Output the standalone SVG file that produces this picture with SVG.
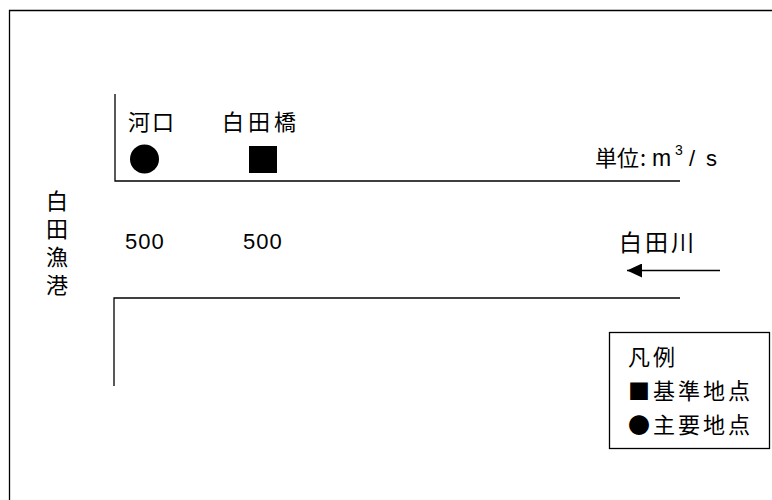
<svg xmlns="http://www.w3.org/2000/svg" width="772" height="500" viewBox="0 0 772 500">
<style>
.t{font-family:"Noto Sans CJK JP","Liberation Sans",sans-serif;fill:#000}
.n{font-family:"Liberation Sans","Noto Sans CJK JP",sans-serif;fill:#000;font-size:22px}
.ln{stroke:#000;stroke-width:1.3;fill:none}
</style>
<defs>
<marker id="ah" markerWidth="15" markerHeight="14" refX="15" refY="7" orient="auto" markerUnits="userSpaceOnUse">
<path d="M0,0 L15,7 L0,14 Z" fill="#000"/>
</marker>
</defs>
<rect width="772" height="500" fill="#fff"/>
<path class="ln" d="M9.5,510 V10.5 H780" stroke-width="1.5"/>
<g id="river">
<path class="ln" d="M115,94 V181 H680"/>
<path class="ln" d="M114,386 V298 H680"/>
</g>
<g id="connectors">
<line class="ln" x1="720" y1="270.5" x2="627" y2="270.5" marker-end="url(#ah)"/>
</g>
<g id="kakou">
<text class="t" x="128" y="130" font-size="22" letter-spacing="2">河口</text>
<circle cx="144.5" cy="159" r="14.5" fill="#000"/>
<text class="n" x="125" y="249" letter-spacing="1">500</text>
</g>
<g id="shiratabashi">
<text class="t" x="222" y="130" font-size="22" letter-spacing="4">白田橋</text>
<rect x="249" y="146" width="28" height="27" fill="#000"/>
<text class="n" x="243" y="249" letter-spacing="1">500</text>
</g>
<g id="unit">
<text class="t" y="166" font-size="22"><tspan x="595">単</tspan><tspan x="617">位</tspan><tspan x="640">:</tspan><tspan x="652" font-family="Liberation Sans" font-size="23">m</tspan><tspan x="675" y="155" font-size="14" font-family="Liberation Sans">3</tspan><tspan x="689" y="166" font-family="Liberation Sans" font-size="22">/</tspan><tspan x="706" font-family="Liberation Sans">s</tspan></text>
</g>
<g id="gyokou">
<text class="t" x="57" y="190" font-size="22" writing-mode="vertical-rl" letter-spacing="6">白田漁港</text>
</g>
<g id="river-name">
<text class="t" x="619" y="251" font-size="23" letter-spacing="3">白田川</text>
</g>
<g id="legend">
<rect x="609.5" y="332.5" width="160" height="116" fill="#fff" stroke="#000" stroke-width="1.3"/>
<text class="t" x="628" y="365" font-size="22" letter-spacing="3">凡例</text>
<text class="t" x="628" y="399" font-size="22" letter-spacing="3">■基準地点</text>
<text class="t" x="628" y="433" font-size="22" letter-spacing="3">●主要地点</text>
</g>
</svg>
